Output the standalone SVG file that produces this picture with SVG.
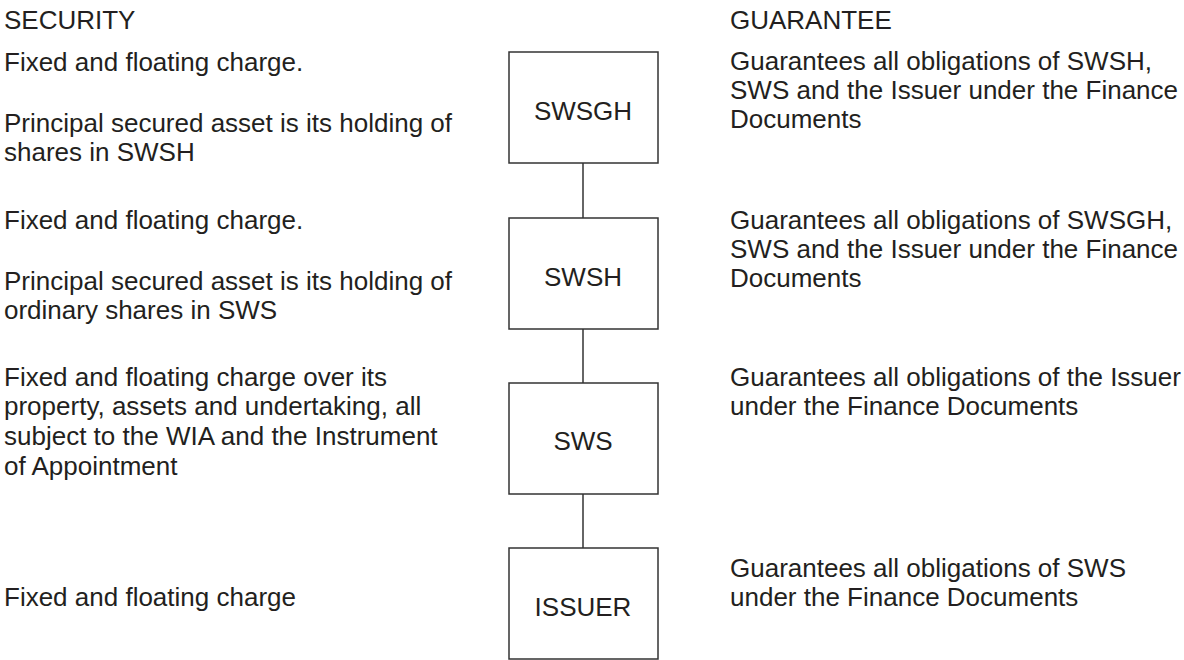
<svg xmlns="http://www.w3.org/2000/svg" width="1184" height="660" viewBox="0 0 1184 660">
<style>
text{font-family:"Liberation Sans",Arial,sans-serif;font-size:26px;fill:#231f20}
.box{fill:#fff;stroke:#333;stroke-width:1.5}
.lbl{text-anchor:middle}
.conn{stroke:#333;stroke-width:1.5;fill:none}
</style>
<rect width="1184" height="660" fill="#fff"/>
<g id="connectors">
<line class="conn" x1="583" y1="163" x2="583" y2="218"/>
<line class="conn" x1="583" y1="329" x2="583" y2="383"/>
<line class="conn" x1="583" y1="494" x2="583" y2="548"/>
</g>
<g id="node-swsgh"><rect class="box" x="509" y="52" width="149" height="111"/><text class="lbl" x="583" y="120">SWSGH</text></g>
<g id="node-swsh"><rect class="box" x="509" y="218" width="149" height="111"/><text class="lbl" x="583" y="286">SWSH</text></g>
<g id="node-sws"><rect class="box" x="509" y="383" width="149" height="111"/><text class="lbl" x="583" y="450">SWS</text></g>
<g id="node-issuer"><rect class="box" x="509" y="548" width="149" height="111"/><text class="lbl" x="583" y="616">ISSUER</text></g>
<g id="security">
<text x="4" y="29">SECURITY</text>
<text x="4" y="71">Fixed and floating charge.</text>
<text x="4" y="132">Principal secured asset is its holding of</text>
<text x="4" y="161">shares in SWSH</text>
<text x="4" y="229">Fixed and floating charge.</text>
<text x="4" y="290">Principal secured asset is its holding of</text>
<text x="4" y="319">ordinary shares in SWS</text>
<text x="4" y="386">Fixed and floating charge over its</text>
<text x="4" y="415">property, assets and undertaking, all</text>
<text x="4" y="445">subject to the WIA and the Instrument</text>
<text x="4" y="475">of Appointment</text>
<text x="4" y="606">Fixed and floating charge</text>
</g>
<g id="guarantee">
<text x="730" y="29">GUARANTEE</text>
<text x="730" y="70">Guarantees all obligations of SWSH,</text>
<text x="730" y="99">SWS and the Issuer under the Finance</text>
<text x="730" y="128">Documents</text>
<text x="730" y="229">Guarantees all obligations of SWSGH,</text>
<text x="730" y="258">SWS and the Issuer under the Finance</text>
<text x="730" y="287">Documents</text>
<text x="730" y="386">Guarantees all obligations of the Issuer</text>
<text x="730" y="415">under the Finance Documents</text>
<text x="730" y="577">Guarantees all obligations of SWS</text>
<text x="730" y="606">under the Finance Documents</text>
</g>
</svg>
